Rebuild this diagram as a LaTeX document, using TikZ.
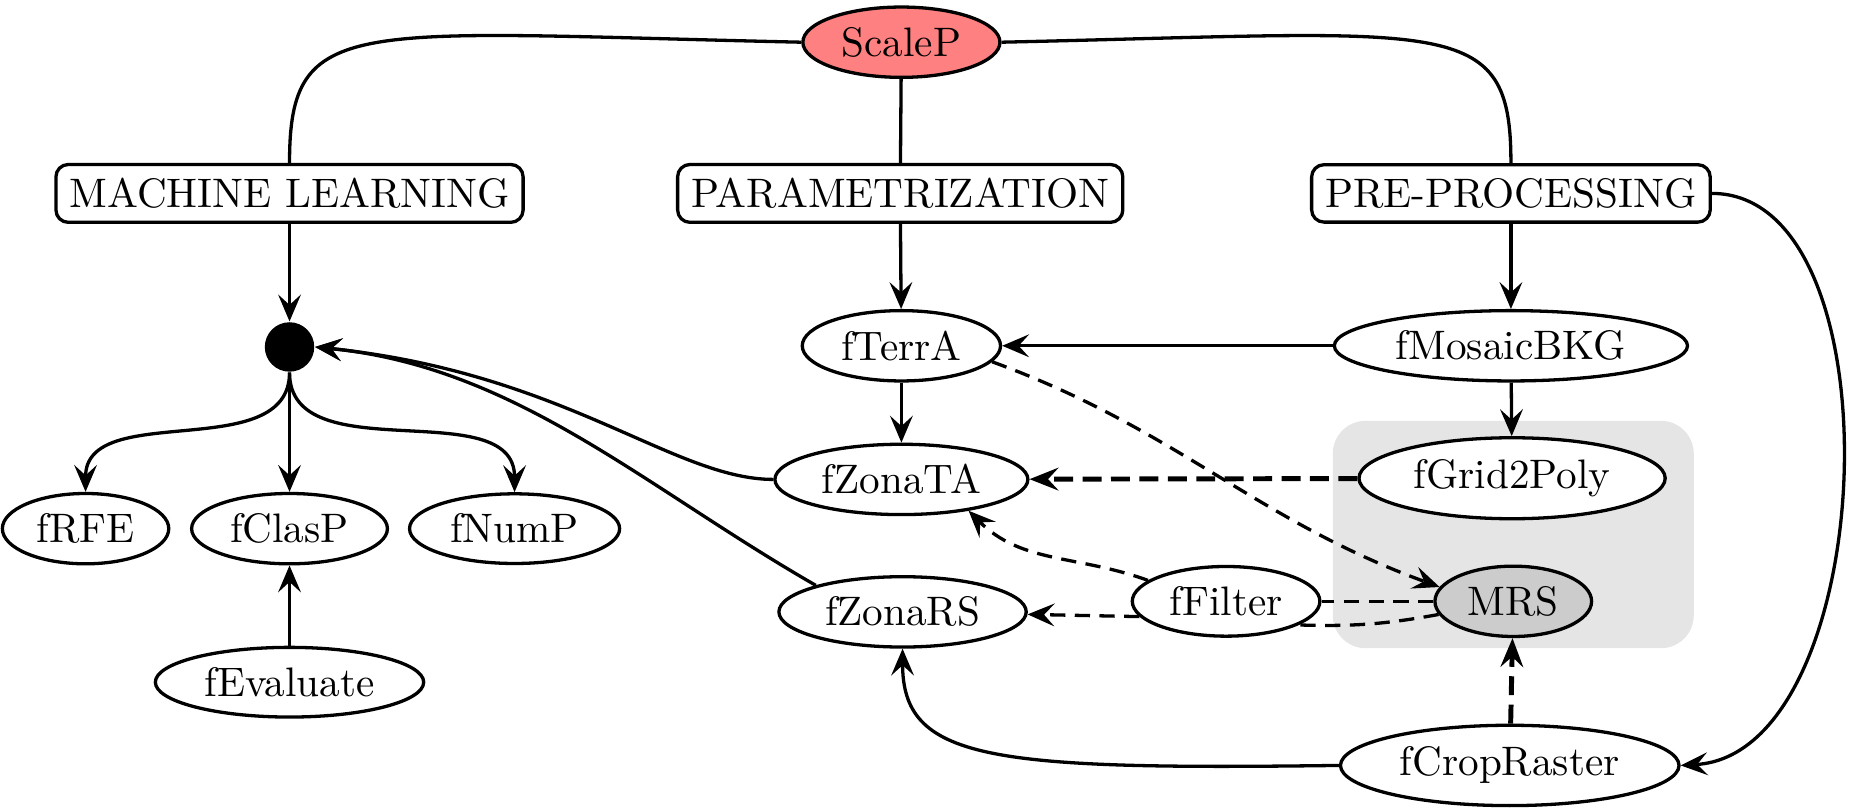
\documentclass[tikz,border=0pt]{standalone}
\usepackage{tikz}
\usetikzlibrary{arrows.meta, shapes.geometric}

\tikzset{
	func/.style={ellipse, draw, thick, inner sep=2.4pt},
	group/.style={draw, thick, rounded corners=3pt},
	link/.style={thick},
	dashes/.style={dash pattern=on 3.7pt off 2.3pt},
	flow/.style={thick, -{Stealth[length=6.5pt, width=5.5pt, inset=2.5pt]}},
	dep/.style={thick, dashes, -{Stealth[length=6.5pt, width=5.5pt, inset=2.5pt]}},
	strongdep/.style={very thick, dash pattern=on 4.6pt off 2.3pt, -{Stealth[length=7pt, width=5.5pt, inset=2.5pt]}},
}

\begin{document}
\begin{tikzpicture}
	\useasboundingbox (0,0) rectangle (15.80,-6.894);
	\fill[black!10, rounded corners=8pt] (11.37,-3.59) rectangle (14.45,-5.53);

	\node[func, fill=red!50] (scalep) at (7.69,-0.36) {ScaleP};
	\node[group] (ml) at (2.47,-1.65) {MACHINE LEARNING};
	\node[group] (param) at (7.68,-1.65) {PARAMETRIZATION};
	\node[group] (prep) at (12.89,-1.65) {PRE-PROCESSING};

	\node[circle, fill, inner sep=0pt, minimum size=12pt] (hub) at (2.47,-2.96) {};
	\node[func] (fterra) at (7.69,-2.95) {fTerrA};
	\node[func] (fmosaic) at (12.89,-2.95) {fMosaicBKG};
	\node[func] (fzonata) at (7.69,-4.09) {fZonaTA};
	\node[func, fill=white] (fgrid) at (12.90,-4.08) {fGrid2Poly};
	\node[func] (frfe) at (0.73,-4.51) {fRFE};
	\node[func] (fclasp) at (2.47,-4.51) {fClasP};
	\node[func] (fnump) at (4.39,-4.51) {fNumP};
	\node[func] (feval) at (2.47,-5.82) {fEvaluate};
	\node[func] (fzonars) at (7.70,-5.22) {fZonaRS};
	\node[func] (ffilter) at (10.46,-5.13) {fFilter};
	\node[func, fill=black!20] (mrs) at (12.91,-5.13) {MRS};
	\node[func] (fcrop) at (12.88,-6.53) {fCropRaster};

	\draw[link] (scalep.west) .. controls +(-3.84,0.085) and +(0,1.28) .. (ml.north);
	\draw[link] (scalep.east) .. controls +(3.84,0.085) and +(0,1.28) .. (prep.north);
	\draw[link] (scalep) -- (param);

	\draw[flow] (ml) -- (hub);
	\draw[flow] (param) -- (fterra);
	\draw[flow] (prep) -- (fmosaic);
	\draw[flow] (prep.east) .. controls +(1.62,0) and +(1.7,0.1) .. (fcrop.east);
	\draw[flow] (fmosaic) -- (fterra);
	\draw[flow] (fmosaic) -- (fgrid);
	\draw[flow] (fterra) -- (fzonata);
	\draw[strongdep] (fgrid) -- (fzonata);
	\draw[dep] (fterra.-10) to[out=-20, in=160] (mrs.169);
	\draw[dep] (ffilter.165) to[out=160, in=-45] (fzonata.-25);
	\draw[dep] (ffilter.190) -- (fzonars);
	\draw[link, dashes] (mrs) -- (ffilter);
	\draw[link, dashes] (mrs.190) to[bend left=6] (ffilter.-18);
	\draw[strongdep] (fcrop) -- (mrs);
	\draw[flow] (fcrop.west) .. controls +(-3.0,-0.04) and +(0,-0.95) .. (fzonars.south);

	\draw[flow] (fzonata.west) .. controls +(-0.85,0) and +(2.13,-0.22) .. (hub.east);
	\draw[flow] (fzonars.163) .. controls +(-1.48,0.85) and +(1.71,-0.17) .. (hub.east);
	\draw[flow] (hub.south) to[out=-90, in=90] (frfe.north);
	\draw[flow] (hub) -- (fclasp);
	\draw[flow] (hub.south) to[out=-90, in=90] (fnump.north);
	\draw[flow] (feval) -- (fclasp);
\end{tikzpicture}
\end{document}
